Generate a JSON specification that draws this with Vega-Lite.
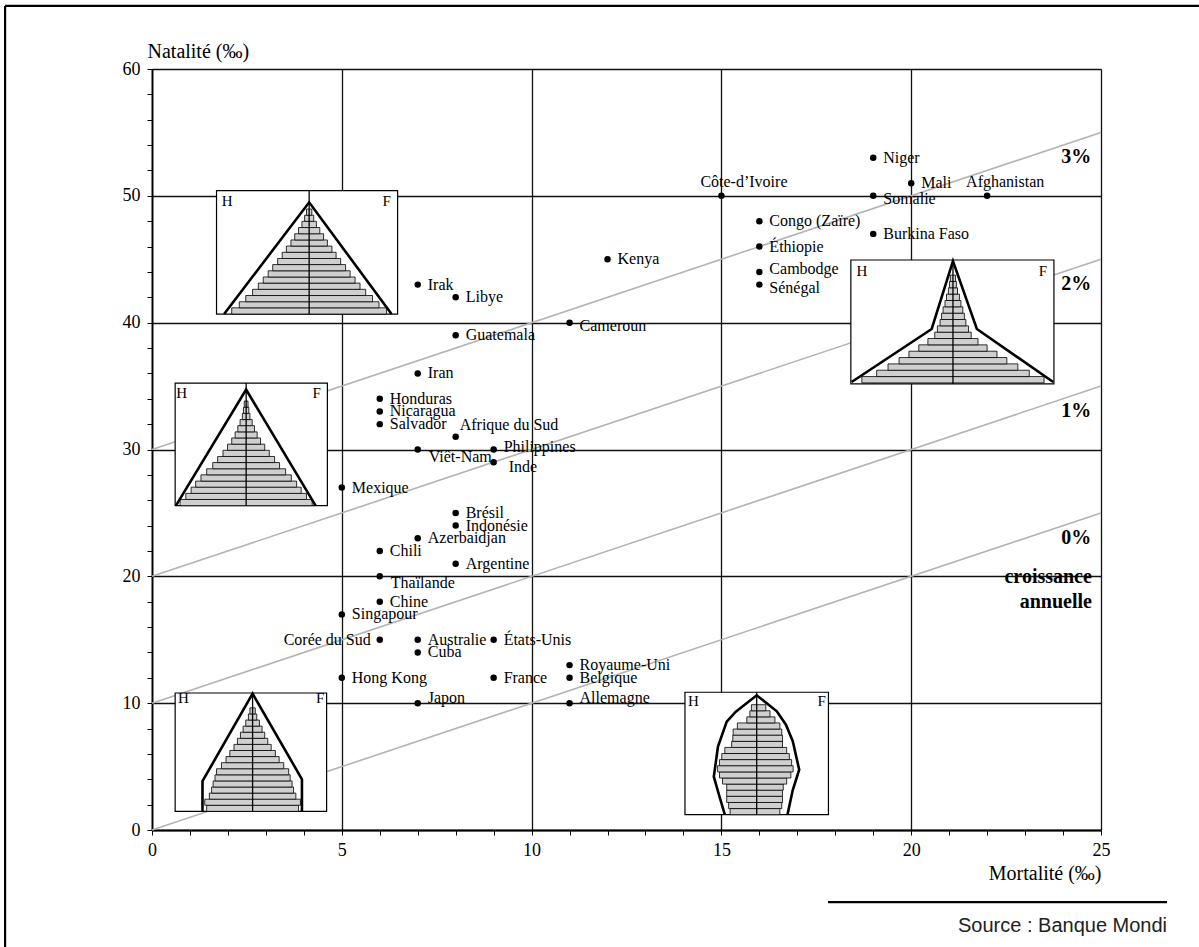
{
  "$schema": "https://vega.github.io/schema/vega-lite/v6.json",
  "width": 949,
  "height": 761,
  "autosize": {"type": "none"},
  "padding": {"left": 152, "top": 69, "right": 98, "bottom": 117},
  "background": "white",
  "config": {
    "view": {"stroke": null},
    "font": "Liberation Serif",
    "axis": {"labelFont": "Liberation Serif", "titleFont": "Liberation Serif", "labelColor": "black", "titleColor": "black", "domainColor": "black", "tickColor": "black"}
  },
  "datasets": {
    "pays": [
      {"pays": "Niger", "mortalite": 19, "natalite": 53},
      {"pays": "Mali", "mortalite": 20, "natalite": 51},
      {"pays": "Afghanistan", "mortalite": 22, "natalite": 50},
      {"pays": "Somalie", "mortalite": 19, "natalite": 50},
      {"pays": "Côte-d’Ivoire", "mortalite": 15, "natalite": 50},
      {"pays": "Congo (Zaïre)", "mortalite": 16, "natalite": 48},
      {"pays": "Burkina Faso", "mortalite": 19, "natalite": 47},
      {"pays": "Éthiopie", "mortalite": 16, "natalite": 46},
      {"pays": "Kenya", "mortalite": 12, "natalite": 45},
      {"pays": "Cambodge", "mortalite": 16, "natalite": 44},
      {"pays": "Sénégal", "mortalite": 16, "natalite": 43},
      {"pays": "Irak", "mortalite": 7, "natalite": 43},
      {"pays": "Libye", "mortalite": 8, "natalite": 42},
      {"pays": "Cameroun", "mortalite": 11, "natalite": 40},
      {"pays": "Guatemala", "mortalite": 8, "natalite": 39},
      {"pays": "Iran", "mortalite": 7, "natalite": 36},
      {"pays": "Honduras", "mortalite": 6, "natalite": 34},
      {"pays": "Nicaragua", "mortalite": 6, "natalite": 33},
      {"pays": "Salvador", "mortalite": 6, "natalite": 32},
      {"pays": "Afrique du Sud", "mortalite": 8, "natalite": 31},
      {"pays": "Philippines", "mortalite": 9, "natalite": 30},
      {"pays": "Viêt-Nam", "mortalite": 7, "natalite": 30},
      {"pays": "Inde", "mortalite": 9, "natalite": 29},
      {"pays": "Mexique", "mortalite": 5, "natalite": 27},
      {"pays": "Brésil", "mortalite": 8, "natalite": 25},
      {"pays": "Indonésie", "mortalite": 8, "natalite": 24},
      {"pays": "Azerbaidjan", "mortalite": 7, "natalite": 23},
      {"pays": "Chili", "mortalite": 6, "natalite": 22},
      {"pays": "Argentine", "mortalite": 8, "natalite": 21},
      {"pays": "Thaïlande", "mortalite": 6, "natalite": 20},
      {"pays": "Chine", "mortalite": 6, "natalite": 18},
      {"pays": "Singapour", "mortalite": 5, "natalite": 17},
      {"pays": "Corée du Sud", "mortalite": 6, "natalite": 15},
      {"pays": "Australie", "mortalite": 7, "natalite": 15},
      {"pays": "États-Unis", "mortalite": 9, "natalite": 15},
      {"pays": "Cuba", "mortalite": 7, "natalite": 14},
      {"pays": "Royaume-Uni", "mortalite": 11, "natalite": 13},
      {"pays": "Hong Kong", "mortalite": 5, "natalite": 12},
      {"pays": "France", "mortalite": 9, "natalite": 12},
      {"pays": "Belgique", "mortalite": 11, "natalite": 12},
      {"pays": "Japon", "mortalite": 7, "natalite": 10},
      {"pays": "Allemagne", "mortalite": 11, "natalite": 10}
    ],
    "croissance": [
      {"taux": "0%", "mortalite": 0, "natalite": 0},
      {"taux": "0%", "mortalite": 25, "natalite": 25},
      {"taux": "1%", "mortalite": 0, "natalite": 10},
      {"taux": "1%", "mortalite": 25, "natalite": 35},
      {"taux": "2%", "mortalite": 0, "natalite": 20},
      {"taux": "2%", "mortalite": 25, "natalite": 45},
      {"taux": "3%", "mortalite": 0, "natalite": 30},
      {"taux": "3%", "mortalite": 25, "natalite": 55}
    ],
    "etiquettes_taux": [
      {"taux": "3%", "x": 24.35, "y": 53.1},
      {"taux": "2%", "x": 24.35, "y": 43.05},
      {"taux": "1%", "x": 24.35, "y": 33.0},
      {"taux": "0%", "x": 24.35, "y": 23.0}
    ],
    "annotation": [
      {"texte": "croissance", "x": 24.76, "y": 19.95},
      {"texte": "annuelle", "x": 24.76, "y": 17.98}
    ],
    "cadres": [
      {"p": "A", "x": 1.70, "x2": 6.47, "y": 40.68, "y2": 50.41, "c": 4.14},
      {"p": "B", "x": 18.41, "x2": 23.76, "y": 35.17, "y2": 44.94, "c": 21.10},
      {"p": "C", "x": 0.61, "x2": 4.62, "y": 25.57, "y2": 35.24, "c": 2.48},
      {"p": "D", "x": 0.61, "x2": 4.60, "y": 1.47, "y2": 10.80, "c": 2.65},
      {"p": "E", "x": 14.04, "x2": 17.82, "y": 1.21, "y2": 10.86, "c": 15.93}
    ],
    "sexes": [
      {"p": "A", "lettre": "H", "x": 1.98, "y": 49.63},
      {"p": "A", "lettre": "F", "x": 6.18, "y": 49.63},
      {"p": "B", "lettre": "H", "x": 18.70, "y": 44.10},
      {"p": "B", "lettre": "F", "x": 23.47, "y": 44.10},
      {"p": "C", "lettre": "H", "x": 0.78, "y": 34.46},
      {"p": "C", "lettre": "F", "x": 4.34, "y": 34.46},
      {"p": "D", "lettre": "H", "x": 0.83, "y": 10.41},
      {"p": "D", "lettre": "F", "x": 4.43, "y": 10.41},
      {"p": "E", "lettre": "H", "x": 14.26, "y": 10.15},
      {"p": "E", "lettre": "F", "x": 17.64, "y": 10.15}
    ],
    "contours": [
      {"p": "A", "i": 1, "x": 1.90, "y": 40.68},
      {"p": "A", "i": 2, "x": 4.14, "y": 49.49},
      {"p": "A", "i": 3, "x": 6.31, "y": 40.68},
      {"p": "B", "i": 1, "x": 18.43, "y": 35.32},
      {"p": "B", "i": 2, "x": 20.54, "y": 39.50},
      {"p": "B", "i": 3, "x": 21.10, "y": 44.86},
      {"p": "B", "i": 4, "x": 21.73, "y": 39.50},
      {"p": "B", "i": 5, "x": 23.74, "y": 35.32},
      {"p": "C", "i": 1, "x": 0.63, "y": 25.57},
      {"p": "C", "i": 2, "x": 2.48, "y": 34.72},
      {"p": "C", "i": 3, "x": 4.31, "y": 25.57},
      {"p": "D", "i": 1, "x": 1.33, "y": 1.47},
      {"p": "D", "i": 2, "x": 1.33, "y": 3.85},
      {"p": "D", "i": 3, "x": 2.65, "y": 10.75},
      {"p": "D", "i": 4, "x": 3.95, "y": 4.00},
      {"p": "D", "i": 5, "x": 3.95, "y": 1.47},
      {"p": "E", "i": 1, "x": 15.09, "y": 1.21},
      {"p": "E", "i": 2, "x": 14.95, "y": 2.63},
      {"p": "E", "i": 3, "x": 14.80, "y": 4.20},
      {"p": "E", "i": 4, "x": 14.91, "y": 6.57},
      {"p": "E", "i": 5, "x": 15.14, "y": 8.54},
      {"p": "E", "i": 6, "x": 15.38, "y": 9.33},
      {"p": "E", "i": 7, "x": 15.93, "y": 10.62},
      {"p": "E", "i": 8, "x": 16.46, "y": 9.36},
      {"p": "E", "i": 9, "x": 16.70, "y": 8.30},
      {"p": "E", "i": 10, "x": 16.88, "y": 7.00},
      {"p": "E", "i": 11, "x": 17.05, "y": 4.75},
      {"p": "E", "i": 12, "x": 16.88, "y": 3.15},
      {"p": "E", "i": 13, "x": 16.74, "y": 1.21}
    ],
    "barres": [
      {"p": "A", "x": 2.10, "x2": 6.18, "y": 40.68, "y2": 41.17},
      {"p": "A", "x": 2.30, "x2": 5.98, "y": 41.17, "y2": 41.65},
      {"p": "A", "x": 2.47, "x2": 5.81, "y": 41.65, "y2": 42.14},
      {"p": "A", "x": 2.65, "x2": 5.63, "y": 42.14, "y2": 42.63},
      {"p": "A", "x": 2.80, "x2": 5.48, "y": 42.63, "y2": 43.12},
      {"p": "A", "x": 2.93, "x2": 5.35, "y": 43.12, "y2": 43.60},
      {"p": "A", "x": 3.06, "x2": 5.22, "y": 43.60, "y2": 44.09},
      {"p": "A", "x": 3.18, "x2": 5.10, "y": 44.09, "y2": 44.58},
      {"p": "A", "x": 3.31, "x2": 4.97, "y": 44.58, "y2": 45.06},
      {"p": "A", "x": 3.43, "x2": 4.85, "y": 45.06, "y2": 45.55},
      {"p": "A", "x": 3.54, "x2": 4.74, "y": 45.55, "y2": 46.04},
      {"p": "A", "x": 3.66, "x2": 4.62, "y": 46.04, "y2": 46.52},
      {"p": "A", "x": 3.76, "x2": 4.52, "y": 46.52, "y2": 47.01},
      {"p": "A", "x": 3.86, "x2": 4.42, "y": 47.01, "y2": 47.50},
      {"p": "A", "x": 3.95, "x2": 4.33, "y": 47.50, "y2": 47.99},
      {"p": "A", "x": 4.02, "x2": 4.26, "y": 47.99, "y2": 48.47},
      {"p": "A", "x": 4.07, "x2": 4.21, "y": 48.47, "y2": 48.96},
      {"p": "B", "x": 18.70, "x2": 23.50, "y": 35.25, "y2": 35.75},
      {"p": "B", "x": 19.09, "x2": 23.11, "y": 35.75, "y2": 36.25},
      {"p": "B", "x": 19.39, "x2": 22.81, "y": 36.25, "y2": 36.75},
      {"p": "B", "x": 19.68, "x2": 22.52, "y": 36.75, "y2": 37.25},
      {"p": "B", "x": 19.94, "x2": 22.26, "y": 37.25, "y2": 37.75},
      {"p": "B", "x": 20.20, "x2": 22.00, "y": 37.75, "y2": 38.25},
      {"p": "B", "x": 20.44, "x2": 21.76, "y": 38.25, "y2": 38.75},
      {"p": "B", "x": 20.62, "x2": 21.58, "y": 38.75, "y2": 39.25},
      {"p": "B", "x": 20.69, "x2": 21.51, "y": 39.25, "y2": 39.75},
      {"p": "B", "x": 20.76, "x2": 21.44, "y": 39.75, "y2": 40.25},
      {"p": "B", "x": 20.80, "x2": 21.40, "y": 40.25, "y2": 40.75},
      {"p": "B", "x": 20.84, "x2": 21.36, "y": 40.75, "y2": 41.25},
      {"p": "B", "x": 20.89, "x2": 21.31, "y": 41.25, "y2": 41.75},
      {"p": "B", "x": 20.93, "x2": 21.27, "y": 41.75, "y2": 42.25},
      {"p": "B", "x": 20.98, "x2": 21.22, "y": 42.25, "y2": 42.75},
      {"p": "B", "x": 21.01, "x2": 21.19, "y": 42.75, "y2": 43.25},
      {"p": "B", "x": 21.03, "x2": 21.17, "y": 43.25, "y2": 43.75},
      {"p": "C", "x": 0.74, "x2": 4.22, "y": 25.57, "y2": 26.06},
      {"p": "C", "x": 0.89, "x2": 4.07, "y": 26.06, "y2": 26.54},
      {"p": "C", "x": 1.03, "x2": 3.93, "y": 26.54, "y2": 27.03},
      {"p": "C", "x": 1.15, "x2": 3.81, "y": 27.03, "y2": 27.51},
      {"p": "C", "x": 1.29, "x2": 3.67, "y": 27.51, "y2": 28.00},
      {"p": "C", "x": 1.44, "x2": 3.52, "y": 28.00, "y2": 28.48},
      {"p": "C", "x": 1.60, "x2": 3.36, "y": 28.48, "y2": 28.97},
      {"p": "C", "x": 1.73, "x2": 3.23, "y": 28.97, "y2": 29.45},
      {"p": "C", "x": 1.87, "x2": 3.09, "y": 29.45, "y2": 29.94},
      {"p": "C", "x": 1.99, "x2": 2.97, "y": 29.94, "y2": 30.42},
      {"p": "C", "x": 2.10, "x2": 2.86, "y": 30.42, "y2": 30.91},
      {"p": "C", "x": 2.19, "x2": 2.77, "y": 30.91, "y2": 31.39},
      {"p": "C", "x": 2.26, "x2": 2.70, "y": 31.39, "y2": 31.88},
      {"p": "C", "x": 2.32, "x2": 2.64, "y": 31.88, "y2": 32.36},
      {"p": "C", "x": 2.38, "x2": 2.58, "y": 32.36, "y2": 32.85},
      {"p": "C", "x": 2.41, "x2": 2.55, "y": 32.85, "y2": 33.33},
      {"p": "C", "x": 2.43, "x2": 2.53, "y": 33.33, "y2": 33.82},
      {"p": "D", "x": 1.44, "x2": 3.86, "y": 1.47, "y2": 1.95},
      {"p": "D", "x": 1.39, "x2": 3.91, "y": 1.95, "y2": 2.43},
      {"p": "D", "x": 1.51, "x2": 3.79, "y": 2.43, "y2": 2.91},
      {"p": "D", "x": 1.57, "x2": 3.73, "y": 2.91, "y2": 3.39},
      {"p": "D", "x": 1.61, "x2": 3.69, "y": 3.39, "y2": 3.87},
      {"p": "D", "x": 1.66, "x2": 3.64, "y": 3.87, "y2": 4.35},
      {"p": "D", "x": 1.70, "x2": 3.60, "y": 4.35, "y2": 4.83},
      {"p": "D", "x": 1.83, "x2": 3.47, "y": 4.83, "y2": 5.31},
      {"p": "D", "x": 1.95, "x2": 3.35, "y": 5.31, "y2": 5.79},
      {"p": "D", "x": 2.05, "x2": 3.25, "y": 5.79, "y2": 6.27},
      {"p": "D", "x": 2.16, "x2": 3.14, "y": 6.27, "y2": 6.75},
      {"p": "D", "x": 2.25, "x2": 3.05, "y": 6.75, "y2": 7.23},
      {"p": "D", "x": 2.33, "x2": 2.97, "y": 7.23, "y2": 7.71},
      {"p": "D", "x": 2.40, "x2": 2.90, "y": 7.71, "y2": 8.19},
      {"p": "D", "x": 2.47, "x2": 2.83, "y": 8.19, "y2": 8.67},
      {"p": "D", "x": 2.54, "x2": 2.76, "y": 8.67, "y2": 9.15},
      {"p": "D", "x": 2.58, "x2": 2.72, "y": 9.15, "y2": 9.63},
      {"p": "E", "x": 15.23, "x2": 16.54, "y": 1.21, "y2": 1.69},
      {"p": "E", "x": 15.19, "x2": 16.59, "y": 1.69, "y2": 2.17},
      {"p": "E", "x": 15.14, "x2": 16.61, "y": 2.17, "y2": 2.66},
      {"p": "E", "x": 15.14, "x2": 16.61, "y": 2.66, "y2": 3.14},
      {"p": "E", "x": 15.14, "x2": 16.63, "y": 3.14, "y2": 3.62},
      {"p": "E", "x": 15.03, "x2": 16.72, "y": 3.62, "y2": 4.10},
      {"p": "E", "x": 14.95, "x2": 16.83, "y": 4.10, "y2": 4.58},
      {"p": "E", "x": 14.90, "x2": 16.89, "y": 4.58, "y2": 5.07},
      {"p": "E", "x": 14.95, "x2": 16.85, "y": 5.07, "y2": 5.55},
      {"p": "E", "x": 15.01, "x2": 16.79, "y": 5.55, "y2": 6.03},
      {"p": "E", "x": 15.09, "x2": 16.72, "y": 6.03, "y2": 6.51},
      {"p": "E", "x": 15.27, "x2": 16.61, "y": 6.51, "y2": 6.99},
      {"p": "E", "x": 15.30, "x2": 16.61, "y": 6.99, "y2": 7.48},
      {"p": "E", "x": 15.31, "x2": 16.59, "y": 7.48, "y2": 7.96},
      {"p": "E", "x": 15.42, "x2": 16.54, "y": 7.96, "y2": 8.44},
      {"p": "E", "x": 15.67, "x2": 16.41, "y": 8.44, "y2": 8.92},
      {"p": "E", "x": 15.75, "x2": 16.28, "y": 8.92, "y2": 9.40},
      {"p": "E", "x": 15.79, "x2": 16.17, "y": 9.40, "y2": 9.88}
    ],
    "traits": [
      {"x": -3.87, "x2": 27.58, "y": 64.97, "y2": 64.97},
      {"x": -3.87, "x2": -3.87, "y": -9.22, "y2": 64.97},
      {"x": 17.81, "x2": 26.74, "y": -5.68, "y2": -5.68}
    ],
    "source": [
      {"texte": "Source : Banque Mondi", "x": 26.74, "y": -7.57}
    ]
  },
  "layer": [
    {
      "data": {"name": "croissance"},
      "mark": {"type": "line", "stroke": "#b3b3b3", "strokeWidth": 1.6},
      "encoding": {
        "x": {
          "field": "mortalite", "type": "quantitative",
          "scale": {"domain": [0, 25], "nice": false, "zero": false},
          "axis": {
            "values": [0,1,2,3,4,5,6,7,8,9,10,11,12,13,14,15,16,17,18,19,20,21,22,23,24,25],
            "tickCount": 200, "format": "d",
            "title": "Mortalité (‰)", "titleFontSize": 20, "titleFontWeight": "normal",
            "titleAngle": 0, "titleAlign": "right", "titleBaseline": "middle", "titleX": 949, "titleY": 43,
            "labelExpr": "datum.value % 5 === 0 ? datum.label : ''",
            "labelFontSize": 18, "labelPadding": 6, "labelFlush": false, "labelOverlap": false, "labelBound": false,
            "tickSize": 5, "tickWidth": 1,
            "grid": true, "gridColor": "#111111", "gridWidth": 1.3,
            "gridOpacity": {"condition": {"test": "datum.value % 5 === 0", "value": 1}, "value": 0},
            "domainWidth": 1.8
          }
        },
        "y": {
          "field": "natalite", "type": "quantitative",
          "scale": {"domain": [0, 60], "nice": false, "zero": false},
          "axis": {
            "values": [0,2,4,6,8,10,12,14,16,18,20,22,24,26,28,30,32,34,36,38,40,42,44,46,48,50,52,54,56,58,60],
            "tickCount": 200, "format": "d",
            "title": "Natalité (‰)", "titleFontSize": 20, "titleFontWeight": "normal",
            "titleAngle": 0, "titleAlign": "left", "titleBaseline": "middle", "titleX": -5, "titleY": -18,
            "labelExpr": "datum.value % 10 === 0 ? datum.label : ''",
            "labelFontSize": 18, "labelPadding": 7, "labelFlush": false, "labelOverlap": false, "labelBound": false,
            "tickSize": 5, "tickWidth": 1,
            "grid": true, "gridColor": "#111111", "gridWidth": 1.3,
            "gridOpacity": {"condition": {"test": "datum.value % 10 === 0", "value": 1}, "value": 0},
            "domainWidth": 1.8
          }
        },
        "detail": {"field": "taux"}
      }
    },
    {
      "data": {"name": "cadres"},
      "mark": {"type": "rect", "fill": "white", "stroke": "black", "strokeWidth": 1.2},
      "encoding": {
        "x": {"field": "x", "type": "quantitative"},
        "x2": {"field": "x2"},
        "y": {"field": "y", "type": "quantitative"},
        "y2": {"field": "y2"}
      }
    },
    {
      "data": {"name": "barres"},
      "mark": {"type": "rect", "fill": "#cfcfcf", "stroke": "black", "strokeWidth": 0.8},
      "encoding": {
        "x": {"field": "x", "type": "quantitative"},
        "x2": {"field": "x2"},
        "y": {"field": "y", "type": "quantitative"},
        "y2": {"field": "y2"}
      }
    },
    {
      "data": {"name": "cadres"},
      "mark": {"type": "rule", "stroke": "black", "strokeWidth": 1.3},
      "encoding": {
        "x": {"field": "c", "type": "quantitative"},
        "y": {"field": "y", "type": "quantitative"},
        "y2": {"field": "y2"}
      }
    },
    {
      "data": {"name": "contours"},
      "mark": {"type": "line", "stroke": "black", "strokeWidth": 2.6, "strokeJoin": "miter"},
      "encoding": {
        "x": {"field": "x", "type": "quantitative"},
        "y": {"field": "y", "type": "quantitative"},
        "detail": {"field": "p"},
        "order": {"field": "i", "type": "quantitative"}
      }
    },
    {
      "data": {"name": "sexes"},
      "mark": {"type": "text", "align": "center", "baseline": "middle", "fontSize": 15, "color": "black"},
      "encoding": {
        "x": {"field": "x", "type": "quantitative"},
        "y": {"field": "y", "type": "quantitative"},
        "text": {"field": "lettre"}
      }
    },
    {
      "data": {"name": "etiquettes_taux"},
      "mark": {"type": "text", "align": "center", "baseline": "middle", "fontSize": 20, "fontWeight": "bold", "color": "black"},
      "encoding": {
        "x": {"field": "x", "type": "quantitative"},
        "y": {"field": "y", "type": "quantitative"},
        "text": {"field": "taux"}
      }
    },
    {
      "data": {"name": "annotation"},
      "mark": {"type": "text", "align": "right", "baseline": "middle", "fontSize": 20, "fontWeight": "bold", "color": "black"},
      "encoding": {
        "x": {"field": "x", "type": "quantitative"},
        "y": {"field": "y", "type": "quantitative"},
        "text": {"field": "texte"}
      }
    },
    {
      "data": {"name": "pays"},
      "mark": {"type": "circle", "size": 42, "color": "black", "opacity": 1},
      "encoding": {
        "x": {"field": "mortalite", "type": "quantitative"},
        "y": {"field": "natalite", "type": "quantitative"}
      }
    },
    {
      "data": {"name": "pays"},
      "transform": [{"filter": {"not": {"field": "pays", "oneOf": ["Côte-d’Ivoire", "Afghanistan", "Afrique du Sud", "Viêt-Nam", "Thaïlande", "Inde", "Japon", "Allemagne", "Philippines", "Cambodge", "Somalie", "Sénégal", "Cameroun", "Corée du Sud"]}}}],
      "mark": {"type": "text", "align": "left", "baseline": "middle", "dx": 10, "fontSize": 16, "color": "black"},
      "encoding": {
        "x": {"field": "mortalite", "type": "quantitative"},
        "y": {"field": "natalite", "type": "quantitative"},
        "text": {"field": "pays"}
      }
    },
    {
      "data": {"name": "pays"},
      "transform": [{"filter": {"field": "pays", "oneOf": ["Côte-d’Ivoire", "Afghanistan"]}}],
      "mark": {"type": "text", "align": "left", "baseline": "middle", "dx": -21, "dy": -14, "fontSize": 16, "color": "black"},
      "encoding": {
        "x": {"field": "mortalite", "type": "quantitative"},
        "y": {"field": "natalite", "type": "quantitative"},
        "text": {"field": "pays"}
      }
    },
    {
      "data": {"name": "pays"},
      "transform": [{"filter": {"field": "pays", "oneOf": ["Afrique du Sud"]}}],
      "mark": {"type": "text", "align": "left", "baseline": "middle", "dx": 4, "dy": -12, "fontSize": 16, "color": "black"},
      "encoding": {
        "x": {"field": "mortalite", "type": "quantitative"},
        "y": {"field": "natalite", "type": "quantitative"},
        "text": {"field": "pays"}
      }
    },
    {
      "data": {"name": "pays"},
      "transform": [{"filter": {"field": "pays", "oneOf": ["Viêt-Nam", "Thaïlande"]}}],
      "mark": {"type": "text", "align": "left", "baseline": "middle", "dx": 11, "dy": 7, "fontSize": 16, "color": "black"},
      "encoding": {
        "x": {"field": "mortalite", "type": "quantitative"},
        "y": {"field": "natalite", "type": "quantitative"},
        "text": {"field": "pays"}
      }
    },
    {
      "data": {"name": "pays"},
      "transform": [{"filter": {"field": "pays", "oneOf": ["Inde"]}}],
      "mark": {"type": "text", "align": "left", "baseline": "middle", "dx": 15, "dy": 5, "fontSize": 16, "color": "black"},
      "encoding": {
        "x": {"field": "mortalite", "type": "quantitative"},
        "y": {"field": "natalite", "type": "quantitative"},
        "text": {"field": "pays"}
      }
    },
    {
      "data": {"name": "pays"},
      "transform": [{"filter": {"field": "pays", "oneOf": ["Japon", "Allemagne"]}}],
      "mark": {"type": "text", "align": "left", "baseline": "middle", "dx": 10, "dy": -5, "fontSize": 16, "color": "black"},
      "encoding": {
        "x": {"field": "mortalite", "type": "quantitative"},
        "y": {"field": "natalite", "type": "quantitative"},
        "text": {"field": "pays"}
      }
    },
    {
      "data": {"name": "pays"},
      "transform": [{"filter": {"field": "pays", "oneOf": ["Philippines", "Cambodge"]}}],
      "mark": {"type": "text", "align": "left", "baseline": "middle", "dx": 10, "dy": -3, "fontSize": 16, "color": "black"},
      "encoding": {
        "x": {"field": "mortalite", "type": "quantitative"},
        "y": {"field": "natalite", "type": "quantitative"},
        "text": {"field": "pays"}
      }
    },
    {
      "data": {"name": "pays"},
      "transform": [{"filter": {"field": "pays", "oneOf": ["Somalie", "Sénégal", "Cameroun"]}}],
      "mark": {"type": "text", "align": "left", "baseline": "middle", "dx": 10, "dy": 3, "fontSize": 16, "color": "black"},
      "encoding": {
        "x": {"field": "mortalite", "type": "quantitative"},
        "y": {"field": "natalite", "type": "quantitative"},
        "text": {"field": "pays"}
      }
    },
    {
      "data": {"name": "pays"},
      "transform": [{"filter": {"field": "pays", "oneOf": ["Corée du Sud"]}}],
      "mark": {"type": "text", "align": "right", "baseline": "middle", "dx": -9, "fontSize": 16, "color": "black"},
      "encoding": {
        "x": {"field": "mortalite", "type": "quantitative"},
        "y": {"field": "natalite", "type": "quantitative"},
        "text": {"field": "pays"}
      }
    },
    {
      "data": {"name": "traits"},
      "mark": {"type": "rule", "stroke": "black", "strokeWidth": 2.2},
      "encoding": {
        "x": {"field": "x", "type": "quantitative"},
        "x2": {"field": "x2"},
        "y": {"field": "y", "type": "quantitative"},
        "y2": {"field": "y2"}
      }
    },
    {
      "data": {"name": "source"},
      "mark": {"type": "text", "align": "right", "baseline": "middle", "font": "Liberation Sans", "fontSize": 20, "color": "#222222"},
      "encoding": {
        "x": {"field": "x", "type": "quantitative"},
        "y": {"field": "y", "type": "quantitative"},
        "text": {"field": "texte"}
      }
    }
  ]
}
